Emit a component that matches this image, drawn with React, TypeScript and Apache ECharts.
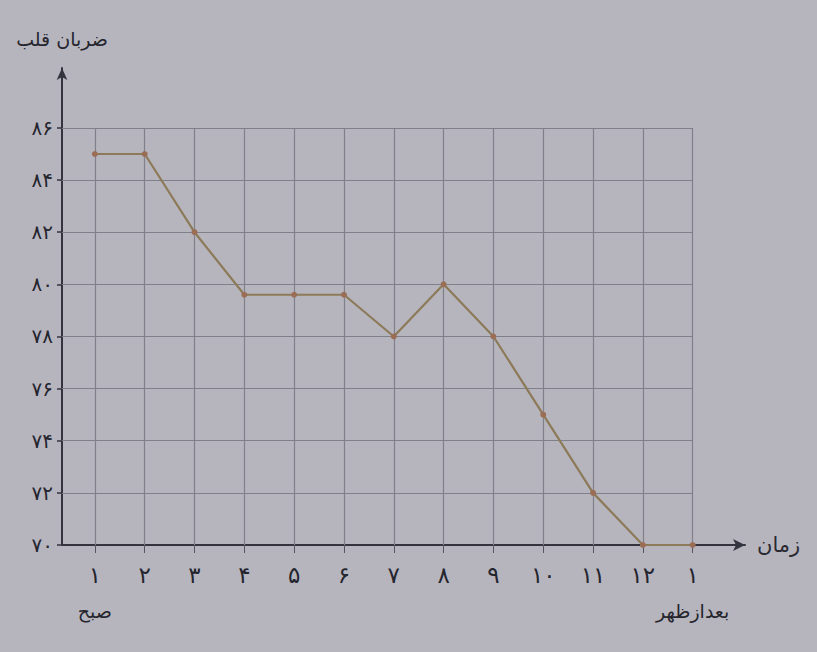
import React, { useEffect, useRef } from "react";
import * as echarts from "echarts";

// Hours (x categories), morning 1 to afternoon 1
const hourLabels = ["۱", "۲", "۳", "۴", "۵", "۶", "۷", "۸", "۹", "۱۰", "۱۱", "۱۲", "۱"];
const morningLabel = "صبح";
const afternoonLabel = "بعدازظهر";
// Heart rate values
const heartRate = [85, 85, 82, 79.6, 79.6, 79.6, 78, 80, 78, 75, 72, 70, 70];
// Y ticks
const yTicks = [70, 72, 74, 76, 78, 80, 82, 84, 86];
const yTickLabels = ["۷۰", "۷۲", "۷۴", "۷۶", "۷۸", "۸۰", "۸۲", "۸۴", "۸۶"];
const yAxisName = "ضربان قلب";
const xAxisName = "زمان";

const FONT = "DejaVu Sans";

export default function App() {
  const ref = useRef<HTMLDivElement>(null);
  useEffect(() => {
    document.body.style.margin = "0";
    if (!ref.current) return;
    const chart = echarts.init(ref.current, null, { renderer: "svg" });
    const xs = hourLabels.map((_, i) => i + 1);
    const yMin = yTicks[0];
    const yTop = yTicks[yTicks.length - 1];
    const xMin = 0.34;
    const xMax = 14.05;
    const xFirst = xs[0];
    const xLast = xs[xs.length - 1];

    const gridLines: any[] = [];
    yTicks.slice(1).forEach((v) => {
      gridLines.push([{ coord: [xMin, v] }, { coord: [xLast, v] }]);
    });
    xs.forEach((x) => {
      gridLines.push([{ coord: [x, yMin] }, { coord: [x, yTop] }]);
    });

    chart.setOption({
      animation: false,
      backgroundColor: "#b6b5be",
      textStyle: { fontFamily: FONT },
      grid: { left: 62, right: 72, top: 68, bottom: 107, containLabel: false },
      xAxis: [
        {
          type: "value",
          min: xMin,
          max: xMax,
          name: xAxisName,
          nameLocation: "end",
          nameGap: 12,
          nameTextStyle: { fontSize: 21, color: "#2a2a33", fontFamily: FONT },
          axisLine: {
            show: true,
            symbol: ["none", "arrow"],
            symbolSize: [9, 12],
            lineStyle: { color: "#34343e", width: 2 },
          },
          axisTick: {
            show: true,
            customValues: xs,
            length: 8,
            lineStyle: { color: "#55555f", width: 1 },
          },
          axisLabel: {
            customValues: xs,
            interval: 0,
            showMinLabel: true,
            showMaxLabel: true,
            hideOverlap: false,
            margin: 18,
            fontSize: 23,
            color: "#25252e",
            fontFamily: FONT,
            formatter: (v: number) => hourLabels[Math.round(v) - 1] ?? "",
          },
          splitLine: { show: false },
        },
        {
          type: "value",
          position: "bottom",
          min: xMin,
          max: xMax,
          axisLine: { show: false },
          axisTick: { show: false },
          splitLine: { show: false },
          axisLabel: {
            customValues: [xFirst, xLast],
            interval: 0,
            showMinLabel: true,
            showMaxLabel: true,
            margin: 56,
            fontSize: 19,
            color: "#25252e",
            fontFamily: FONT,
            formatter: (v: number) =>
              Math.round(v) === xFirst ? morningLabel : Math.round(v) === xLast ? afternoonLabel : "",
          },
        },
      ],
      yAxis: {
        type: "value",
        min: yMin,
        max: 88.3,
        name: yAxisName,
        nameLocation: "end",
        nameGap: 20,
        nameTextStyle: { fontSize: 19, color: "#25252e", fontFamily: FONT, align: "center" },
        axisLine: {
          show: true,
          symbol: ["none", "arrow"],
          symbolSize: [8, 12],
          lineStyle: { color: "#34343e", width: 2 },
        },
        axisTick: {
          show: true,
          customValues: yTicks,
          length: 5,
          lineStyle: { color: "#34343e", width: 1.5 },
        },
        axisLabel: {
          customValues: yTicks,
          margin: 9,
          fontSize: 20,
          color: "#25252e",
          fontFamily: FONT,
          formatter: (v: number) => {
            const i = yTicks.indexOf(Math.round(v));
            return i >= 0 ? yTickLabels[i] : "";
          },
        },
        splitLine: { show: false },
      },
      series: [
        {
          type: "line",
          xAxisIndex: 0,
          data: xs.map((x, i) => [x, heartRate[i]]),
          symbol: "circle",
          symbolSize: 6,
          itemStyle: { color: "#9b6d55" },
          lineStyle: { color: "#8c7a58", width: 2.2 },
          z: 5,
          markLine: {
            silent: true,
            symbol: ["none", "none"],
            label: { show: false },
            lineStyle: { color: "#80808b", width: 1.2, type: "solid" },
            data: gridLines,
            z: 1,
          },
        },
      ],
    });
    return () => chart.dispose();
  }, []);
  return <div ref={ref} style={{ width: 817, height: 652 }} />;
}
